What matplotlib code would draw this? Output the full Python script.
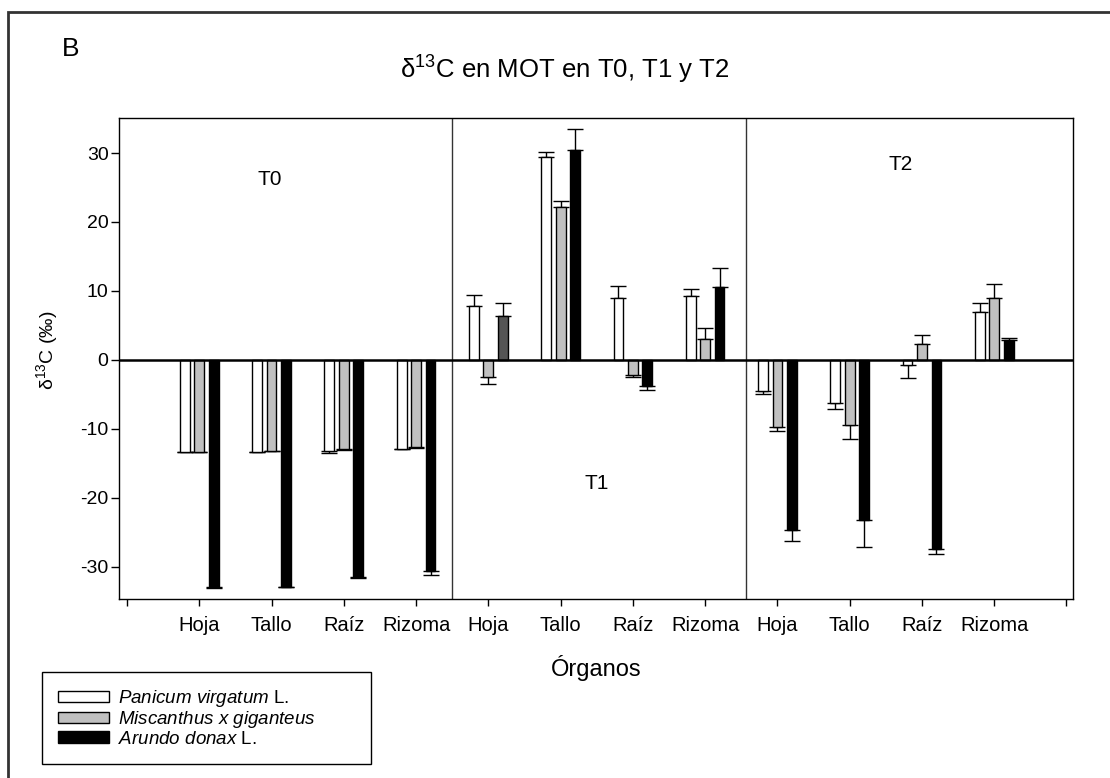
import numpy as np
import matplotlib
matplotlib.use("Agg")
import matplotlib.pyplot as plt
from matplotlib.patches import Patch, Rectangle

plt.rcParams["font.family"] = ["Liberation Sans", "DejaVu Sans"]
plt.rcParams["mathtext.fontset"] = "custom"
plt.rcParams["mathtext.rm"] = "Liberation Sans"
plt.rcParams["mathtext.it"] = "Liberation Sans:italic"
plt.rcParams["mathtext.bf"] = "Liberation Sans:bold"
plt.rcParams["axes.unicode_minus"] = False

# Data (delta 13C, per mil) — order: T0 (Hoja, Tallo, Raiz, Rizoma), T1 (...), T2 (...)
tiempos = ["T0", "T1", "T2"]
organos = ["Hoja", "Tallo", "Raíz", "Rizoma"]
especies = ["$\\mathit{Panicum\\ virgatum}$ L.",
            "$\\mathit{Miscanthus\\ x\\ giganteus}$",
            "$\\mathit{Arundo\\ donax}$ L."]

panicum        = [-13.35, -13.35, -13.3, -12.95,   7.8, 29.4,  9.0,  9.27,   -4.56, -6.3, -0.73, 7.0]
panicum_err    = [0.05, 0.05, 0.25, 0.05,           1.6, 0.7,  1.7,  1.0,     0.4,  0.9,  1.95, 1.25]
miscanthus     = [-13.35, -13.25, -12.9, -12.67,  -2.5, 22.2, -2.2,  2.96,   -9.8, -9.4,  2.33, 9.0]
miscanthus_err = [0.05, 0.05, 0.15, 0.1,           1.0, 0.9,  0.35, 1.65,    0.6,  2.05, 1.2,  2.0]
arundo         = [-33.0, -32.9, -31.55, -30.6,     6.4, 30.5, -3.8, 10.5,   -24.66, -23.2, -27.5, 2.8]
arundo_err     = [0.05, 0.05, 0.1, 0.6,            1.85, 3.0, 0.6,  2.85,    1.65, 3.9,  0.75, 0.35]

series = [panicum, miscanthus, arundo]
errors = [panicum_err, miscanthus_err, arundo_err]
colores = ["white", "#c0c0c0", "black"]
# Arundo / T1 / Hoja is drawn dark grey in the original
arundo_colores = ["black"] * 12
arundo_colores[4] = "#555555"

# ── Figure ────────────────────────────────────────────────────────────────────
W, H = 1110, 778
fig = plt.figure(figsize=(W / 100, H / 100), dpi=100)
ax = fig.add_axes([119 / W, 1 - 599 / H, (1073 - 119) / W, (599 - 118) / H])

pos = np.arange(1, 13)
offsets = [-0.2, 0.0, 0.2]
width = 0.135

for i in range(3):
    vals = np.array(series[i])
    err = np.array(errors[i])
    fc = arundo_colores if i == 2 else colores[i]
    ax.bar(pos + offsets[i], vals, width, color=fc, edgecolor="black", linewidth=1, zorder=3)
    # one-sided error bars, in the direction of the bar
    lower = np.where(vals < 0, err, 0)
    upper = np.where(vals >= 0, err, 0)
    ax.errorbar(pos + offsets[i], vals, yerr=[lower, upper], fmt="none", ecolor="black",
                elinewidth=1, capsize=6, capthick=1, zorder=2)

ax.axhline(0, color="black", linewidth=1.8, zorder=4)
ax.axvline(4.5, color="#333333", linewidth=1)
ax.axvline(8.57, color="#333333", linewidth=1)

ax.set_xlim(-0.111, 13.09)
ax.set_ylim(-34.71, 35.08)

ax.set_xticks(np.arange(0, 14))
ax.set_xticklabels([""] + organos * 3 + [""], fontsize=14.5)
ax.set_yticks([-30, -20, -10, 0, 10, 20, 30])
ax.tick_params(axis="x", direction="out", length=5, width=1, pad=7)
ax.tick_params(axis="y", direction="out", length=6, width=1, pad=1.5, labelsize=14)
for s in ax.spines.values():
    s.set_linewidth(1)

ax.set_xlabel("Órganos", fontsize=17, va="top")
ax.xaxis.set_label_coords(0.5, (599 - 655) / 481)
ax.set_ylabel("δ$^{13}$C (‰)", fontsize=14, va="center")
ax.yaxis.set_label_coords((47 - 119) / 954, (599 - 350) / 481)

# period labels
ax.text(1.98, 26.1, tiempos[0], fontsize=15, ha="center", va="center")
ax.text(6.5, -17.9, tiempos[1], fontsize=15, ha="center", va="center")
ax.text(10.7, 28.3, tiempos[2], fontsize=15, ha="center", va="center")

fig.text(565 / W, 1 - 70 / H, "δ$^{13}$C en MOT en T0, T1 y T2", fontsize=18.5,
         ha="center", va="center")
fig.text(62 / W, 1 - 49 / H, "B", fontsize=19, ha="left", va="center")

# legend, box stretched to the original width
handles = [Patch(facecolor=colores[i], edgecolor="black", linewidth=1) for i in range(3)]
fig.legend(handles, especies, loc="upper left",
           bbox_to_anchor=(42 / W, 1 - 768 / H, 329 / W, 96 / H),
           bbox_transform=fig.transFigure, mode="expand", borderaxespad=0, fontsize=13.5,
           frameon=True, fancybox=False, edgecolor="black", framealpha=1,
           handlelength=2.7, handleheight=0.55, handletextpad=0.5,
           labelspacing=0.02, borderpad=0.85)

# outer frame of the panel
fig.add_artist(Rectangle((8 / W, -0.05), 1.2, 1 - 12 / H + 0.05, transform=fig.transFigure,
                         fill=False, edgecolor="#333333", linewidth=2))

plt.savefig("out.png", dpi=100)
print("done")
